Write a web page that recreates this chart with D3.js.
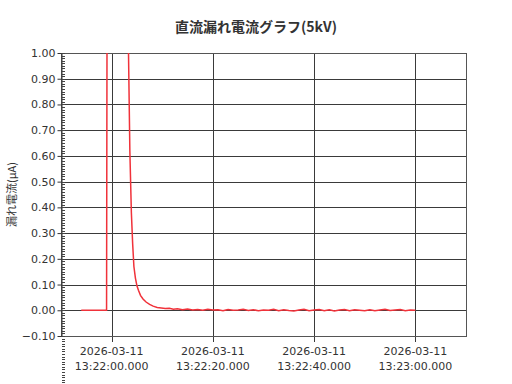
<!DOCTYPE html>
<html>
<head>
<meta charset="utf-8">
<script src="https://cdn.jsdelivr.net/npm/d3@7"></script>
<style>
body { margin: 0; background: #fff; }
text { font-family: "Noto Sans CJK JP", "DejaVu Sans", sans-serif; }
</style>
</head>
<body>
<script>
// seconds after 13:21:50 and leakage current (µA)
var secs = [4, 9.0, 9.2, 10, 11, 12, 13.0, 13.3, 13.6, 13.9, 14.15, 14.4, 14.7, 15.0, 15.3, 15.7,
            16.2, 16.8, 17.5, 18.2, 19.0, 19.8, 20.6, 21.4, 22.2, 23.0,
            24, 25, 26, 27, 28, 29, 30, 31, 32, 33, 34, 35, 36, 37, 38, 39, 40,
            41, 42, 43, 44, 45, 46, 47, 48, 49, 50, 51, 52, 53, 54, 55, 56, 57, 58, 59, 60,
            61, 62, 63, 64, 65, 66, 67, 68, 69, 70];
var values = [0.000, 0.000, 2.40, 3.10, 3.50, 2.60, 1.40, 1.05, 0.62, 0.38, 0.26, 0.17, 0.125, 0.095, 0.078, 0.058,
              0.044, 0.032, 0.023, 0.016, 0.011, 0.009, 0.007, 0.008, 0.004, 0.006,
              0.002, 0.005, 0.001, 0.003, 0.000, 0.004, 0.001, 0.002, -0.002, 0.003, 0.000, 0.001, 0.004, -0.001, 0.002, -0.002, 0.001,
              0.000, 0.004, -0.002, 0.002, -0.001, -0.003, 0.001, 0.004, -0.002, 0.001, 0.003, -0.002, 0.002, -0.003, 0.001, 0.003, -0.002, 0.002, 0.000, -0.002,
              0.002, -0.002, 0.001, 0.004, -0.001, 0.001, 0.003, -0.002, 0.001, 0.000];
var yTicks = [-0.1, 0.0, 0.1, 0.2, 0.3, 0.4, 0.5, 0.6, 0.7, 0.8, 0.9, 1.0];
var xTickSecs = [10, 30, 50, 70];

var base = new Date(2026, 2, 11, 13, 21, 50);
function toDate(s) { return new Date(base.getTime() + s * 1000); }
var data = secs.map(function(s, i) { return { t: toDate(s), v: values[i] }; });

var width = 512, height = 384;
var margin = { left: 61, right: 46, top: 53, bottom: 48 };
var innerW = width - margin.left - margin.right;
var innerH = height - margin.top - margin.bottom;
var grid = '#3a3a3a';

var svg = d3.select('body').append('svg')
    .attr('width', width).attr('height', height);

var x = d3.scaleTime()
    .domain([toDate(0), toDate(80)])
    .range([0, innerW]);
var y = d3.scaleLinear()
    .domain([-0.1, 1.0])
    .range([innerH, 0]);

var g = svg.append('g')
    .attr('transform', 'translate(' + margin.left + ',' + margin.top + ')');

svg.append('defs').append('clipPath').attr('id', 'plot')
    .append('rect').attr('width', innerW).attr('height', innerH);

// horizontal grid
g.append('g').selectAll('line')
    .data(yTicks).enter().append('line')
    .attr('x1', 0).attr('x2', innerW)
    .attr('y1', function(d) { return Math.round(y(d)) + 0.5; })
    .attr('y2', function(d) { return Math.round(y(d)) + 0.5; })
    .attr('stroke', grid).attr('stroke-width', 1);

// vertical grid, running past the bottom edge as ticks
g.append('g').selectAll('line')
    .data(xTickSecs).enter().append('line')
    .attr('x1', function(d) { return Math.round(x(toDate(d))) + 0.5; })
    .attr('x2', function(d) { return Math.round(x(toDate(d))) + 0.5; })
    .attr('y1', 0).attr('y2', innerH + 6)
    .attr('stroke', grid).attr('stroke-width', 1);

// frame
g.append('rect')
    .attr('x', 0.5).attr('y', 0.5)
    .attr('width', innerW).attr('height', innerH)
    .attr('fill', 'none').attr('stroke', '#555').attr('stroke-width', 1);

// y axis with minor ticks on the inside
var yAxis = d3.axisLeft(y).tickValues(yTicks).tickFormat(d3.format('.2f'))
    .tickSizeOuter(0).tickSizeInner(4).tickPadding(2);
var ya = g.append('g').attr('transform', 'translate(0.5,0)').call(yAxis);
ya.select('.domain').attr('stroke', '#333');
ya.selectAll('.tick line').attr('stroke', '#333');
ya.selectAll('text').attr('fill', '#333').style('font-size', '11px')
    .style('font-family', '"DejaVu Sans", sans-serif');

var minor = d3.range(-100, 101).map(function(i) { return i / 100; });
g.append('g').selectAll('line')
    .data(minor).enter().append('line')
    .attr('x1', 1).attr('x2', 4)
    .attr('y1', function(d) { return Math.round(y(d)) + 0.5; })
    .attr('y2', function(d) { return Math.round(y(d)) + 0.5; })
    .attr('stroke', '#444').attr('stroke-width', 1);

// x tick labels, date and time on two lines
var fmtDate = d3.timeFormat('%Y-%m-%d');
var fmtTime = d3.timeFormat('%H:%M:%S.%L');
var xl = g.append('g').selectAll('text')
    .data(xTickSecs).enter().append('text')
    .attr('x', function(d) { return x(toDate(d)); })
    .attr('y', innerH + 19)
    .attr('text-anchor', 'middle')
    .attr('fill', '#333')
    .style('font-size', '11px')
    .style('font-family', '"DejaVu Sans", sans-serif');
xl.append('tspan').attr('x', function(d) { return x(toDate(d)); })
    .text(function(d) { return fmtDate(toDate(d)); });
xl.append('tspan').attr('x', function(d) { return x(toDate(d)); })
    .attr('dy', 15)
    .text(function(d) { return fmtTime(toDate(d)); });

// data line
var line = d3.line()
    .x(function(d) { return x(d.t); })
    .y(function(d) { return y(d.v); });
g.append('path')
    .datum(data)
    .attr('clip-path', 'url(#plot)')
    .attr('d', line)
    .attr('fill', 'none')
    .attr('stroke', '#f0323a')
    .attr('stroke-width', 1.5);

// titles
svg.append('text')
    .attr('x', 256).attr('y', 32)
    .attr('text-anchor', 'middle')
    .attr('fill', '#333')
    .style('font-size', '14px').style('font-weight', 'bold')
    .text('直流漏れ電流グラフ(5kV)');

svg.append('text')
    .attr('transform', 'translate(16,' + (margin.top + innerH / 2) + ') rotate(-90)')
    .attr('text-anchor', 'middle')
    .attr('fill', '#333')
    .style('font-size', '11px')
    .text('漏れ電流(μA)');
</script>
</body>
</html>
